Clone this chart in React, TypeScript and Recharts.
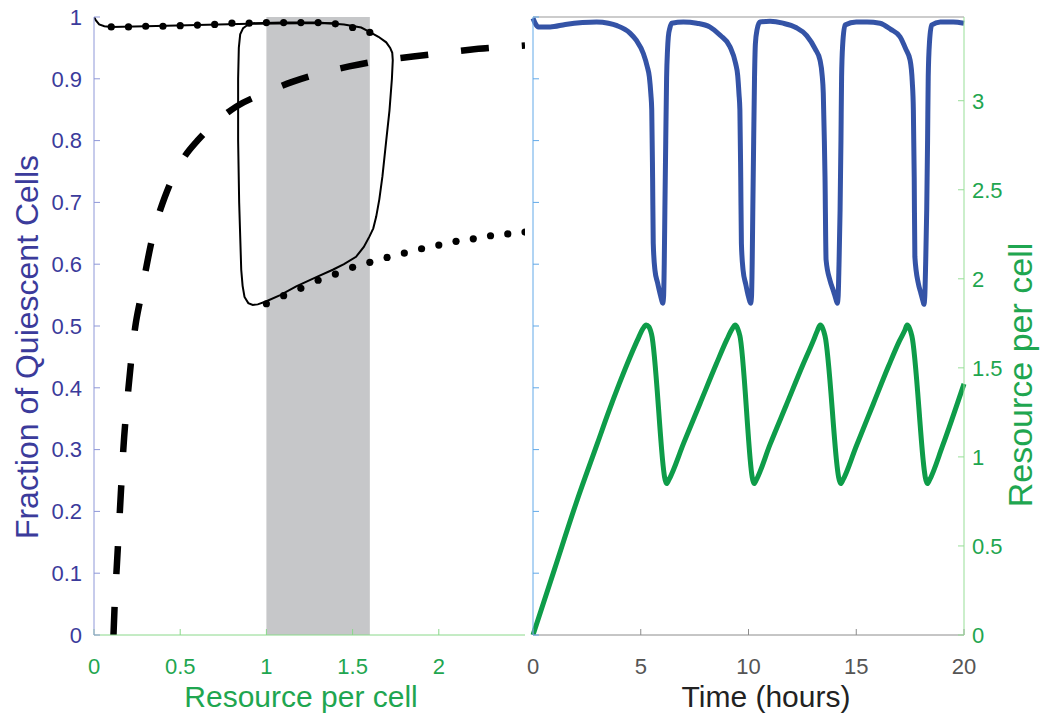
import React from 'react';
import { LineChart, Line, XAxis, YAxis, ReferenceArea } from 'recharts';

const FONT = '"Liberation Sans", Arial, Helvetica, sans-serif';

// ---- left panel: fraction vs resource ----
const resourceTicks = [0, 0.5, 1, 1.5, 2];
const fractionTicks = [0, 0.1, 0.2, 0.3, 0.4, 0.5, 0.6, 0.7, 0.8, 0.9, 1];

const dashedX = [0.113, 0.12, 0.13, 0.15, 0.17, 0.2, 0.24, 0.27, 0.3, 0.33, 0.37, 0.41, 0.46, 0.52, 0.6, 0.7, 0.825, 1.0, 1.15, 1.3, 1.48, 1.65, 1.85, 2.0, 2.18, 2.35, 2.5];
const dashedY = [0, 0.05, 0.1, 0.2, 0.3, 0.4, 0.5, 0.545, 0.59, 0.632, 0.675, 0.708, 0.742, 0.772, 0.8, 0.828, 0.855, 0.878, 0.895, 0.908, 0.92, 0.929, 0.936, 0.941, 0.947, 0.951, 0.954];

const topSolidX = [0, 0.01, 0.03, 0.06, 0.1, 0.3, 0.6, 0.9, 1.2, 1.4];
const topSolidY = [1.0, 0.995, 0.988, 0.985, 0.984, 0.985, 0.987, 0.989, 0.99, 0.99];

const loopX = [0.92, 1.1, 1.3, 1.45, 1.55, 1.598, 1.65, 1.695, 1.718, 1.73, 1.733, 1.728, 1.714, 1.695, 1.673, 1.655, 1.637, 1.62, 1.598, 1.565, 1.52, 1.45, 1.385, 1.28, 1.173, 1.08, 1.0, 0.95, 0.921, 0.895, 0.873, 0.862, 0.854, 0.842, 0.836, 0.836, 0.84, 0.848, 0.865, 0.89, 0.92];
const loopY = [0.99, 0.991, 0.991, 0.988, 0.983, 0.976, 0.968, 0.959, 0.95, 0.942, 0.93, 0.9, 0.849, 0.8, 0.742, 0.705, 0.677, 0.658, 0.645, 0.628, 0.612, 0.6, 0.591, 0.578, 0.564, 0.55, 0.54, 0.535, 0.534, 0.537, 0.547, 0.565, 0.591, 0.7, 0.8, 0.9, 0.95, 0.972, 0.982, 0.987, 0.99];

const upperDotX = [0.1, 0.2, 0.3, 0.4, 0.5, 0.6, 0.7, 0.8, 0.9, 1.0, 1.1, 1.2, 1.3, 1.4, 1.5, 1.6];
const upperDotY = [0.984, 0.984, 0.985, 0.985, 0.986, 0.987, 0.988, 0.99, 0.99, 0.991, 0.991, 0.991, 0.991, 0.989, 0.983, 0.975];

const lowerDotX = [1.0, 1.1, 1.2, 1.3, 1.4, 1.5, 1.6, 1.7, 1.8, 1.9, 2.0, 2.1, 2.2, 2.3, 2.4, 2.5];
const lowerDotY = [0.536, 0.549, 0.561, 0.574, 0.584, 0.595, 0.603, 0.611, 0.618, 0.625, 0.631, 0.637, 0.641, 0.646, 0.649, 0.652];

// ---- right panel: time series ----
const timeTicks = [0, 5, 10, 15, 20];
const resourceAxisTicks = [0, 0.5, 1, 1.5, 2, 2.5, 3];

const blueT = [0, 0.1, 0.25, 0.8, 1.5, 2.3, 2.95, 3.5, 3.9, 4.5, 4.8, 5.12, 5.3, 5.4, 5.47, 5.51, 5.55, 5.58, 5.66, 5.78, 5.89, 5.97, 6.02, 6.06, 6.09, 6.12, 6.16, 6.2, 6.24, 6.28, 6.35, 6.44, 6.98, 7.6, 8.2, 8.7, 9.14, 9.4, 9.5, 9.56, 9.6, 9.64, 9.67, 9.75, 9.87, 9.98, 10.06, 10.1, 10.14, 10.17, 10.2, 10.24, 10.28, 10.32, 10.4, 10.53, 11.0, 11.6, 12.2, 12.7, 13.1, 13.32, 13.42, 13.47, 13.52, 13.55, 13.6, 13.78, 13.95, 14.06, 14.12, 14.16, 14.2, 14.25, 14.29, 14.32, 14.37, 14.48, 15.0, 15.5, 16.1, 16.6, 17.03, 17.3, 17.5, 17.6, 17.65, 17.69, 17.72, 17.88, 18.0, 18.1, 18.14, 18.18, 18.22, 18.27, 18.31, 18.34, 18.4, 18.5, 18.9, 19.5, 20];
const blueF = [0.998, 0.99, 0.984, 0.984, 0.988, 0.991, 0.992, 0.99, 0.986, 0.974, 0.962, 0.941, 0.92, 0.903, 0.875, 0.85, 0.74, 0.634, 0.59, 0.57, 0.553, 0.542, 0.537, 0.548, 0.6, 0.688, 0.8, 0.903, 0.945, 0.968, 0.982, 0.99, 0.992, 0.99, 0.984, 0.97, 0.952, 0.925, 0.905, 0.875, 0.85, 0.74, 0.634, 0.59, 0.568, 0.55, 0.54, 0.537, 0.548, 0.6, 0.688, 0.8, 0.903, 0.957, 0.98, 0.992, 0.993, 0.99, 0.983, 0.97, 0.948, 0.93, 0.905, 0.877, 0.8, 0.742, 0.607, 0.574, 0.556, 0.543, 0.537, 0.548, 0.6, 0.688, 0.8, 0.903, 0.955, 0.987, 0.992, 0.992, 0.99, 0.98, 0.968, 0.948, 0.93, 0.895, 0.85, 0.74, 0.612, 0.569, 0.553, 0.54, 0.535, 0.548, 0.6, 0.688, 0.8, 0.903, 0.96, 0.987, 0.992, 0.992, 0.99];

const greenT = [0, 1, 2, 3, 3.5, 4, 4.5, 4.9, 5.1, 5.25, 5.38, 5.5, 6.2, 6.3, 7, 7.75, 8.5, 9, 9.25, 9.37, 9.5, 9.6, 10.26, 10.36, 11, 11.75, 12.5, 13, 13.2, 13.33, 13.45, 13.55, 14.28, 14.38, 15, 15.8, 16.5, 17, 17.25, 17.36, 17.48, 17.58, 18.3, 18.4, 19, 20];
const greenR = [0, 0.37, 0.74, 1.08, 1.25, 1.41, 1.56, 1.67, 1.72, 1.74, 1.73, 1.69, 0.85, 0.87, 1.08, 1.3, 1.52, 1.66, 1.72, 1.74, 1.72, 1.68, 0.85, 0.87, 1.07, 1.29, 1.51, 1.65, 1.71, 1.74, 1.72, 1.68, 0.85, 0.87, 1.06, 1.3, 1.51, 1.65, 1.71, 1.74, 1.72, 1.68, 0.85, 0.87, 1.06, 1.41];

const zip = (xs: number[], ys: number[]) => xs.map((x, i) => ({ x, y: ys[i] }));

const dashedData = zip(dashedX, dashedY);
const topSolidData = zip(topSolidX, topSolidY);
const loopData = zip(loopX, loopY);
const upperDots = zip(upperDotX, upperDotY);
const lowerDots = zip(lowerDotX, lowerDotY);
const blueData = zip(blueT, blueF);
const greenData = zip(greenT, greenR);

const INDIGO = '#3b3b9b';
const GREEN_TEXT = '#1fa650';
const BLUE_LINE = '#3453a6';
const GREEN_LINE = '#0e9c49';

const dotStyle = { r: 3.6, fill: '#000', stroke: '#000', strokeWidth: 0 };

function Title({ text, x, y, color, size, rotate }: { text: string; x: number; y: number; color: string; size: number; rotate?: boolean }) {
  return (
    <div
      style={{
        position: 'absolute',
        left: x,
        top: y,
        transform: `translate(-50%, -50%)${rotate ? ' rotate(-90deg)' : ''}`,
        whiteSpace: 'nowrap',
        fontSize: size,
        color,
        lineHeight: 1,
      }}
    >
      {text}
    </div>
  );
}

export default function App() {
  return (
    <div style={{ position: 'absolute', left: 0, top: 0, width: 1047, height: 721, background: '#fff', fontFamily: FONT }}>
      {/* left panel */}
      <div style={{ position: 'absolute', left: 0, top: 0 }}>
        <LineChart width={540} height={721} margin={{ top: 17, right: 15, bottom: 46, left: 34 }}>
          <XAxis
            type="number"
            dataKey="x"
            domain={[0, 2.5]}
            ticks={resourceTicks}
            allowDataOverflow
            height={40}
            stroke="#8ad88a"
            tickSize={-6}
            tickMargin={29}
            tick={{ fill: GREEN_TEXT, fontSize: 22 }}
          />
          <YAxis
            type="number"
            domain={[0, 1]}
            ticks={fractionTicks}
            allowDataOverflow
            width={60}
            stroke="#8f98d8"
            tickSize={-6}
            tickMargin={18}
            tick={{ fill: INDIGO, fontSize: 22 }}
          />
          <ReferenceArea x1={1} x2={1.6} y1={0} y2={1} fill="#c6c7c9" fillOpacity={1} stroke="none" />
          <Line data={dashedData} dataKey="y" type="monotone" stroke="#000" strokeWidth={6.5} strokeDasharray="28 33" dot={false} activeDot={false} isAnimationActive={false} />
          <Line data={topSolidData} dataKey="y" type="linear" stroke="#000" strokeWidth={2} dot={false} activeDot={false} isAnimationActive={false} />
          <Line data={loopData} dataKey="y" type="linear" stroke="#000" strokeWidth={2} dot={false} activeDot={false} isAnimationActive={false} />
          <Line data={upperDots} dataKey="y" stroke="none" strokeWidth={0} dot={dotStyle} activeDot={false} isAnimationActive={false} />
          <Line data={lowerDots} dataKey="y" stroke="none" strokeWidth={0} dot={dotStyle} activeDot={false} isAnimationActive={false} />
        </LineChart>
      </div>

      {/* right panel */}
      <div style={{ position: 'absolute', left: 480, top: 0 }}>
        <LineChart width={567} height={721} margin={{ top: 7, right: 23, bottom: 46, left: 13 }}>
          <XAxis
            xAxisId="t"
            orientation="top"
            type="number"
            dataKey="x"
            domain={[0, 20]}
            ticks={timeTicks}
            height={10}
            stroke="#999"
            tickSize={-6}
            tickFormatter={() => ''}
          />
          <XAxis
            xAxisId="b"
            type="number"
            dataKey="x"
            domain={[0, 20]}
            ticks={timeTicks}
            height={40}
            stroke="#8c8c8c"
            tickSize={-6}
            tickMargin={29}
            tick={{ fill: '#555', fontSize: 22 }}
          />
          <YAxis
            yAxisId="f"
            type="number"
            domain={[0, 1]}
            ticks={fractionTicks}
            width={40}
            stroke="#62a9e8"
            tickSize={-6}
            tickFormatter={() => ''}
          />
          <YAxis
            yAxisId="r"
            orientation="right"
            type="number"
            domain={[0, 3.47]}
            ticks={resourceAxisTicks}
            allowDataOverflow
            width={60}
            stroke="#97de97"
            tickSize={-6}
            tickMargin={14}
            tick={{ fill: GREEN_TEXT, fontSize: 22, textAnchor: 'start' }}
          />
          <Line xAxisId="b" yAxisId="f" data={blueData} dataKey="y" type="monotone" stroke={BLUE_LINE} strokeWidth={5} dot={false} activeDot={false} isAnimationActive={false} />
          <Line xAxisId="b" yAxisId="r" data={greenData} dataKey="y" type="monotone" stroke={GREEN_LINE} strokeWidth={5} dot={false} activeDot={false} isAnimationActive={false} />
        </LineChart>
      </div>

      <Title text="Fraction of Quiescent Cells" x={27} y={347} color={INDIGO} size={32} rotate />
      <Title text="Resource per cell" x={301} y={697} color={GREEN_TEXT} size={30} />
      <Title text="Time (hours)" x={766} y={697} color="#222" size={30} />
      <Title text="Resource per cell" x={1020} y={375} color={GREEN_TEXT} size={34} rotate />
    </div>
  );
}
